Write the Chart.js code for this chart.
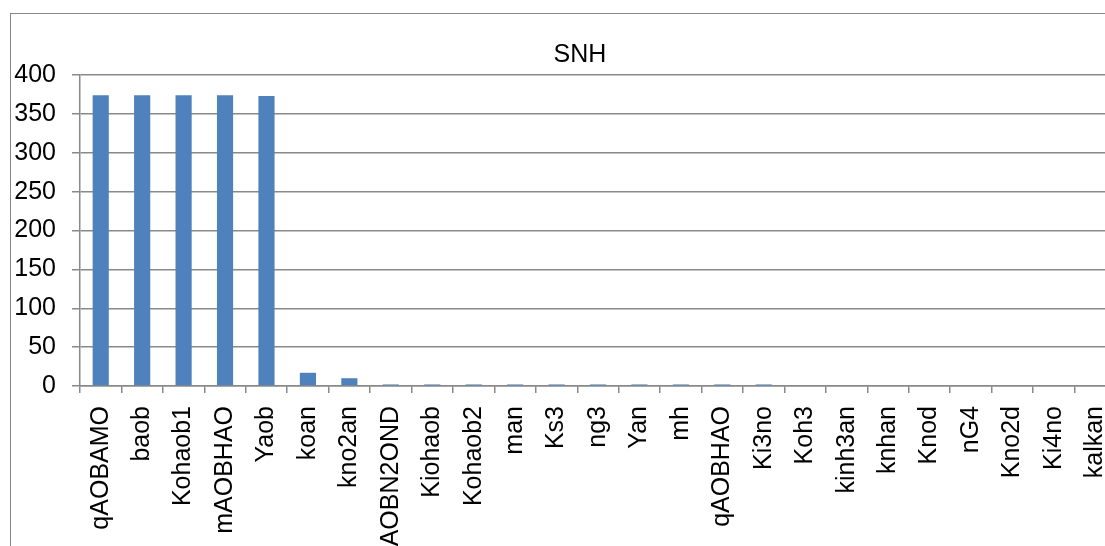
<!DOCTYPE html>
<html>
<head>
<meta charset="utf-8">
<script src="https://cdn.jsdelivr.net/npm/chart.js@4/dist/chart.umd.min.js"></script>
<style>
  html, body { margin: 0; padding: 0; background: #fff; overflow: hidden; width: 1105px; height: 546px; }
  #frame { position: absolute; left: 10px; top: 13px; width: 1200px; height: 600px;
           border-left: 1px solid #878787; border-top: 1px solid #878787; }
  #chart { position: absolute; left: 10px; top: 13px; }
</style>
</head>
<body>
<div id="frame"></div>
<canvas id="chart" width="1140" height="533" style="width:1140px;height:533px"></canvas>
<script>
// Categories along the x axis
const categories = [
  'qAOBAMO', 'baob', 'Kohaob1', 'mAOBHAO', 'Yaob', 'koan', 'kno2an', 'qAOBN2OND',
  'Kiohaob', 'Kohaob2', 'man', 'Ks3', 'ng3', 'Yan', 'mh', 'qAOBHAO', 'Ki3no',
  'Koh3', 'kinh3an', 'knhan', 'Knod', 'nG4', 'Kno2d', 'Ki4no', 'kalkan'
];

// SNH value per category
const snhValues = [
  374, 374, 374, 374, 373, 17, 10, 2,
  2, 2, 2, 2, 2, 2, 2, 2, 2,
  1, 0, 0, 0, 0, 0, 0, 0
];

// Value axis range and step
const yMin = 0;
const yMax = 400;
const yStep = 50;

const axisGray = '#898989';
const labelFont = { family: '"Liberation Sans", Arial, sans-serif', size: 25 };

// Centre the title on the whole frame rather than on the padded layout width
const titleShift = {
  id: 'titleShift',
  afterLayout(chart) {
    const t = chart.titleBlock;
    if (t) { t.left += 17; t.right += 17; }
  }
};

new Chart(document.getElementById('chart'), {
  type: 'bar',
  data: {
    labels: categories,
    datasets: [{
      label: 'SNH',
      data: snhValues,
      backgroundColor: '#4F81BD',
      borderWidth: 0,
      categoryPercentage: 1,
      barPercentage: 0.39
    }]
  },
  plugins: [titleShift],
  options: {
    responsive: false,
    devicePixelRatio: 1,
    animation: false,
    layout: { padding: { left: 0, right: 34, top: 0, bottom: 0 } },
    plugins: {
      legend: { display: false },
      tooltip: { enabled: false },
      title: {
        display: true,
        text: 'SNH',
        color: '#000',
        font: { family: labelFont.family, size: 25, weight: 'normal' },
        padding: { top: 27, bottom: 5 }
      }
    },
    scales: {
      x: {
        type: 'category',
        offset: true,
        grid: {
          offset: true,
          drawOnChartArea: false,
          drawTicks: true,
          tickLength: 7,
          color: axisGray,
          lineWidth: 1.5
        },
        border: { display: true, color: axisGray, width: 1.5 },
        ticks: {
          autoSkip: false,
          maxRotation: 90,
          minRotation: 90,
          padding: 13,
          color: '#000',
          font: labelFont
        },
        afterFit(scale) { scale.height = 160; }
      },
      y: {
        min: yMin,
        max: yMax,
        grid: {
          color: axisGray,
          lineWidth: 1.5,
          tickLength: 8,
          drawTicks: true
        },
        border: { display: true, color: axisGray, width: 1.5 },
        ticks: {
          stepSize: yStep,
          padding: 16,
          color: '#000',
          font: labelFont
        },
        afterFit(scale) { scale.width = 70; }
      }
    }
  }
});
</script>
</body>
</html>
